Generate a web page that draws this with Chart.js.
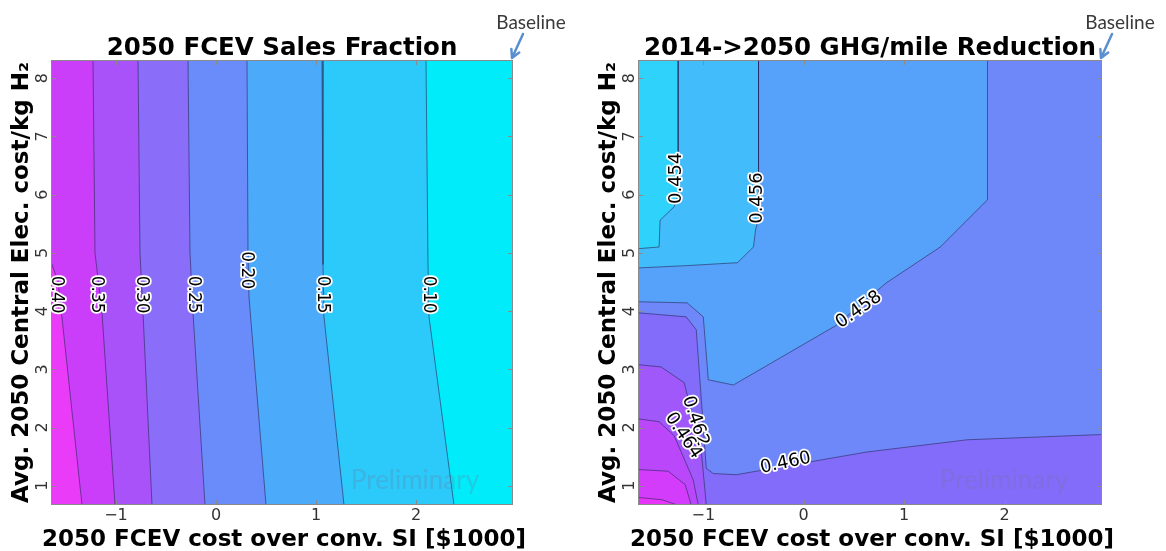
<!DOCTYPE html>
<html>
<head>
<meta charset="utf-8">
<script src="https://cdn.jsdelivr.net/npm/chart.js@4.4.1/dist/chart.umd.min.js"></script>
<style>
  html, body { margin: 0; padding: 0; background: #fff; }
  #wrap { position: relative; width: 1166px; height: 551px; }
  .panel { position: absolute; top: 0; width: 583px; height: 551px; }
</style>
</head>
<body>
<div id="wrap">
  <div class="panel" style="left:0"><canvas id="sales"></canvas></div>
  <div class="panel" style="left:583px"><canvas id="ghg"></canvas></div>
</div>
<script>
// ---- Axis ranges & ticks (data units) ----
const X_MIN = -1.65, X_MAX = 2.97;
const Y_MIN = 0.67, Y_MAX = 8.31;
const X_TICKS = [-1, 0, 1, 2];
const Y_TICKS = [1, 2, 3, 4, 5, 6, 7, 8];

// ---- Left: 2050 FCEV sales fraction, contour lines as [x, y] ----
const SALES_010 = [[2.10, 8.31], [2.12, 4.8], [2.13, 3.9], [2.38, 0.67]];
const SALES_015 = [[1.06, 8.31], [1.07, 4.8], [1.08, 3.9], [1.28, 0.67]];
const SALES_020 = [[0.31, 8.31], [0.32, 5.0], [0.33, 4.24], [0.50, 0.67]];
const SALES_025 = [[-0.28, 8.31], [-0.26, 5.0], [-0.23, 3.97], [-0.11, 0.67]];
const SALES_030 = [[-0.78, 8.31], [-0.76, 5.0], [-0.73, 3.97], [-0.64, 0.67]];
const SALES_035 = [[-1.23, 8.31], [-1.21, 5.0], [-1.14, 3.97], [-1.01, 0.67]];
const SALES_040 = [[-1.65, 4.85], [-1.58, 4.5], [-1.54, 3.88], [-1.34, 0.67]];
// band colours, low -> high (<0.10 ... >0.40)
const SALES_COLORS = ["#00ECFA", "#2CCAFA", "#4CAAFA", "#6A8CFA", "#8A6EFA", "#AA52FA", "#CA3EFA", "#EA3CF8"];
const SALES_LABELS = [
  ["0.40", -1.595, 4.28, 90], ["0.35", -1.20, 4.28, 90], ["0.30", -0.75, 4.28, 90],
  ["0.25", -0.23, 4.28, 90], ["0.20", 0.30, 4.70, 90], ["0.15", 1.06, 4.28, 90],
  ["0.10", 2.12, 4.28, 90],
];

// ---- Right: 2014->2050 GHG/mile reduction, contour lines as [x, y] ----
const GHG_454 = [[-1.25, 8.31], [-1.25, 6.0], [-1.29, 5.79], [-1.43, 5.56], [-1.44, 5.10], [-1.65, 5.07]];
const GHG_456 = [[-0.45, 8.31], [-0.45, 5.6], [-0.48, 5.39], [-0.50, 5.10], [-0.66, 4.83], [-1.16, 4.78], [-1.65, 4.74]];
const GHG_458 = [[-1.65, 4.16], [-1.16, 4.14], [-1.00, 3.90], [-0.95, 2.82], [-0.70, 2.73], [0.32, 3.75],
                 [0.82, 4.48], [1.36, 5.10], [1.83, 5.91], [1.83, 8.31]];
const GHG_460 = [[-1.65, 3.97], [-1.17, 3.90], [-1.07, 3.68], [-0.97, 1.30], [-0.90, 1.21], [-0.67, 1.19],
                 [-0.44, 1.26], [0.63, 1.58], [1.63, 1.79], [2.97, 1.88]];
const GHG_462 = [[-1.65, 3.08], [-1.42, 3.04], [-1.19, 2.77], [-1.02, 1.60], [-0.97, 0.67]];
const GHG_464 = [[-1.65, 2.15], [-1.44, 2.10], [-1.29, 1.86], [-1.10, 1.10], [-1.05, 0.67]];
const GHG_466 = [[-1.65, 1.28], [-1.35, 1.25], [-1.18, 1.02], [-1.12, 0.67]];
const GHG_468 = [[-1.65, 0.80], [-1.41, 0.76], [-1.26, 0.67]];
// band colours, low -> high (<0.454 ... >0.468)
const GHG_COLORS = ["#2ED2FA", "#42BCFA", "#56A2FA", "#6E88FA", "#846CFA", "#A058FA", "#BA48FA", "#D23CFA", "#E834F8"];
const GHG_LABELS = [
  ["0.454", -1.27, 6.28, -90], ["0.456", -0.46, 5.94, -90], ["0.458", 0.55, 4.02, -35],
  ["0.460", -0.18, 1.39, -12], ["0.462", -1.08, 2.11, 72], ["0.464", -1.20, 1.86, 56],
];

const LINE_COLOR = "rgba(40,40,90,0.6)";
const FRAME_COLOR = "#8a8a8a";
const FONT = "DejaVu Sans";

// ---- Dataset builders ----
function bandDataset(points, color, order) {
  return { data: points, showLine: true, fill: "shape", backgroundColor: color,
           borderWidth: 0, pointRadius: 0, order, clip: 0 };
}
function contourDataset(points) {
  return { data: points, showLine: true, fill: false, borderColor: LINE_COLOR,
           borderWidth: 1, pointRadius: 0, order: 1, clip: 0 };
}
const FULL_RECT = [[X_MIN, Y_MIN], [X_MAX, Y_MIN], [X_MAX, Y_MAX], [X_MIN, Y_MAX]];

function drawContourLabel(ctx, px, py, text, rot, size) {
  ctx.save();
  ctx.translate(px, py);
  ctx.rotate(rot * Math.PI / 180);
  ctx.font = `${size}px "${FONT}"`;
  ctx.textAlign = "center";
  ctx.textBaseline = "middle";
  ctx.lineJoin = "round";
  ctx.strokeStyle = "#fff";
  ctx.lineWidth = 3.5;
  ctx.strokeText(text, 0, 0);
  ctx.fillStyle = "#000";
  ctx.fillText(text, 0, 0);
  ctx.restore();
}

function makeDeco(spec) {
  return {
    id: "deco",
    afterDatasetsDraw(chart) {
      const { ctx, chartArea: a, scales } = chart;
      const sx = scales.x, sy = scales.y;
      ctx.save();
      // frame and inward ticks
      ctx.strokeStyle = FRAME_COLOR;
      ctx.lineWidth = 1;
      ctx.beginPath();
      for (const v of X_TICKS) {
        const px = Math.round(sx.getPixelForValue(v)) + 0.5;
        ctx.moveTo(px, a.bottom); ctx.lineTo(px, a.bottom - 5);
        ctx.moveTo(px, a.top); ctx.lineTo(px, a.top + 5);
      }
      for (const v of Y_TICKS) {
        const py = Math.round(sy.getPixelForValue(v)) + 0.5;
        ctx.moveTo(a.left, py); ctx.lineTo(a.left + 5, py);
        ctx.moveTo(a.right, py); ctx.lineTo(a.right - 5, py);
      }
      ctx.stroke();
      ctx.strokeRect(a.left + 0.5, a.top + 0.5, a.width - 1, a.height - 1);

      // watermark
      ctx.font = '26px "Lato"';
      ctx.fillStyle = "rgba(110,110,150,0.25)";
      ctx.textAlign = "center";
      ctx.textBaseline = "alphabetic";
      ctx.fillText("Preliminary", a.right - 98, a.bottom - 16);

      // contour labels
      for (const [text, vx, vy, rot] of spec.labels) {
        drawContourLabel(ctx, sx.getPixelForValue(vx), sy.getPixelForValue(vy), text, rot, spec.labelSize);
      }
      ctx.restore();
    },
    afterDraw(chart) {
      const { ctx, chartArea: a } = chart;
      const cx = (a.left + a.right) / 2;
      ctx.save();
      ctx.fillStyle = "#000";
      ctx.textAlign = "center";
      ctx.textBaseline = "alphabetic";
      ctx.font = `bold 24.5px "${FONT}"`;
      ctx.fillText(spec.title, cx, 55);

      ctx.font = `bold 23px "${FONT}"`;
      ctx.fillText("2050 FCEV cost over conv. SI [$1000]", cx + 2, a.bottom + 41);

      ctx.save();
      ctx.translate(a.left - 23, (a.top + a.bottom) / 2);
      ctx.rotate(-Math.PI / 2);
      ctx.fillText("Avg. 2050 Central Elec. cost/kg H\u2082", 0, 0);
      ctx.restore();

      // "Baseline" call-out
      ctx.font = '19px "Lato"';
      ctx.fillStyle = "#3a3a3a";
      ctx.fillText("Baseline", a.right + 18, 29);
      const x0 = a.right + 10, y0 = 34, x1 = a.right - 1, y1 = a.top - 2;
      ctx.strokeStyle = "#5a8fcf";
      ctx.lineWidth = 2.5;
      ctx.lineCap = "round";
      ctx.beginPath();
      ctx.moveTo(x0, y0); ctx.lineTo(x1, y1);
      const ang = Math.atan2(y1 - y0, x1 - x0);
      for (const d of [-0.5, 0.5]) {
        ctx.moveTo(x1, y1);
        ctx.lineTo(x1 - 9 * Math.cos(ang + d), y1 - 9 * Math.sin(ang + d));
      }
      ctx.stroke();
      ctx.restore();
    },
  };
}

function buildChart(canvasId, spec) {
  return new Chart(document.getElementById(canvasId), {
    type: "scatter",
    data: { datasets: spec.datasets },
    options: {
      responsive: true,
      maintainAspectRatio: false,
      animation: false,
      devicePixelRatio: 1,
      layout: { padding: { top: 60, right: spec.padRight, left: 0, bottom: 0 } },
      plugins: { legend: { display: false }, tooltip: { enabled: false } },
      scales: {
        x: {
          type: "linear", min: X_MIN, max: X_MAX,
          afterBuildTicks: s => { s.ticks = X_TICKS.map(v => ({ value: v })); },
          afterFit: s => { s.height = 46; },
          grid: { display: false, drawTicks: false },
          border: { display: false },
          ticks: {
            color: "#333", font: { family: FONT, size: 16 }, padding: 1,
            maxRotation: 0, autoSkip: false,
            callback: v => (v < 0 ? "\u2212" + Math.abs(v) : String(v)),
          },
        },
        y: {
          type: "linear", min: Y_MIN, max: Y_MAX,
          afterBuildTicks: s => { s.ticks = Y_TICKS.map(v => ({ value: v })); },
          afterFit: s => { s.width = spec.yWidth; },
          grid: { display: false, drawTicks: false },
          border: { display: false },
          ticks: {
            color: "#333", font: { family: FONT, size: 16 }, padding: 3,
            minRotation: 90, maxRotation: 90, crossAlign: "center", autoSkip: false,
          },
        },
      },
    },
    plugins: [makeDeco(spec)],
  });
}

// ---- Left panel: painter's order, each polygon = region above a level ----
const salesContours = [SALES_010, SALES_015, SALES_020, SALES_025, SALES_030, SALES_035, SALES_040];
const salesDatasets = [bandDataset(FULL_RECT, SALES_COLORS[0], 1000)];
salesContours.forEach((c, i) => {
  salesDatasets.push(bandDataset([...c, [X_MIN, Y_MIN], [X_MIN, Y_MAX]], SALES_COLORS[i + 1], 999 - i));
});
salesContours.forEach(c => salesDatasets.push(contourDataset(c)));

buildChart("sales", {
  datasets: salesDatasets,
  title: "2050 FCEV Sales Fraction",
  labels: SALES_LABELS,
  labelSize: 17,
  padRight: 70,
  yWidth: 51,
});

// ---- Right panel ----
const ghgDatasets = [
  bandDataset(FULL_RECT, GHG_COLORS[3], 1000),
  bandDataset([...GHG_458, [X_MIN, Y_MAX]], GHG_COLORS[2], 999),
  bandDataset([...GHG_456, [X_MIN, Y_MAX]], GHG_COLORS[1], 998),
  bandDataset([...GHG_454, [X_MIN, Y_MAX]], GHG_COLORS[0], 997),
  bandDataset([...GHG_460, [X_MAX, Y_MIN], [X_MIN, Y_MIN]], GHG_COLORS[4], 996),
  bandDataset([...GHG_462, [X_MIN, Y_MIN]], GHG_COLORS[5], 995),
  bandDataset([...GHG_464, [X_MIN, Y_MIN]], GHG_COLORS[6], 994),
  bandDataset([...GHG_466, [X_MIN, Y_MIN]], GHG_COLORS[7], 993),
  bandDataset([...GHG_468, [X_MIN, Y_MIN]], GHG_COLORS[8], 992),
];
[GHG_454, GHG_456, GHG_458, GHG_460, GHG_462, GHG_464, GHG_466, GHG_468]
  .forEach(c => ghgDatasets.push(contourDataset(c)));

buildChart("ghg", {
  datasets: ghgDatasets,
  title: "2014->2050 GHG/mile Reduction",
  labels: GHG_LABELS,
  labelSize: 18,
  padRight: 64,
  yWidth: 55,
});
</script>
</body>
</html>
